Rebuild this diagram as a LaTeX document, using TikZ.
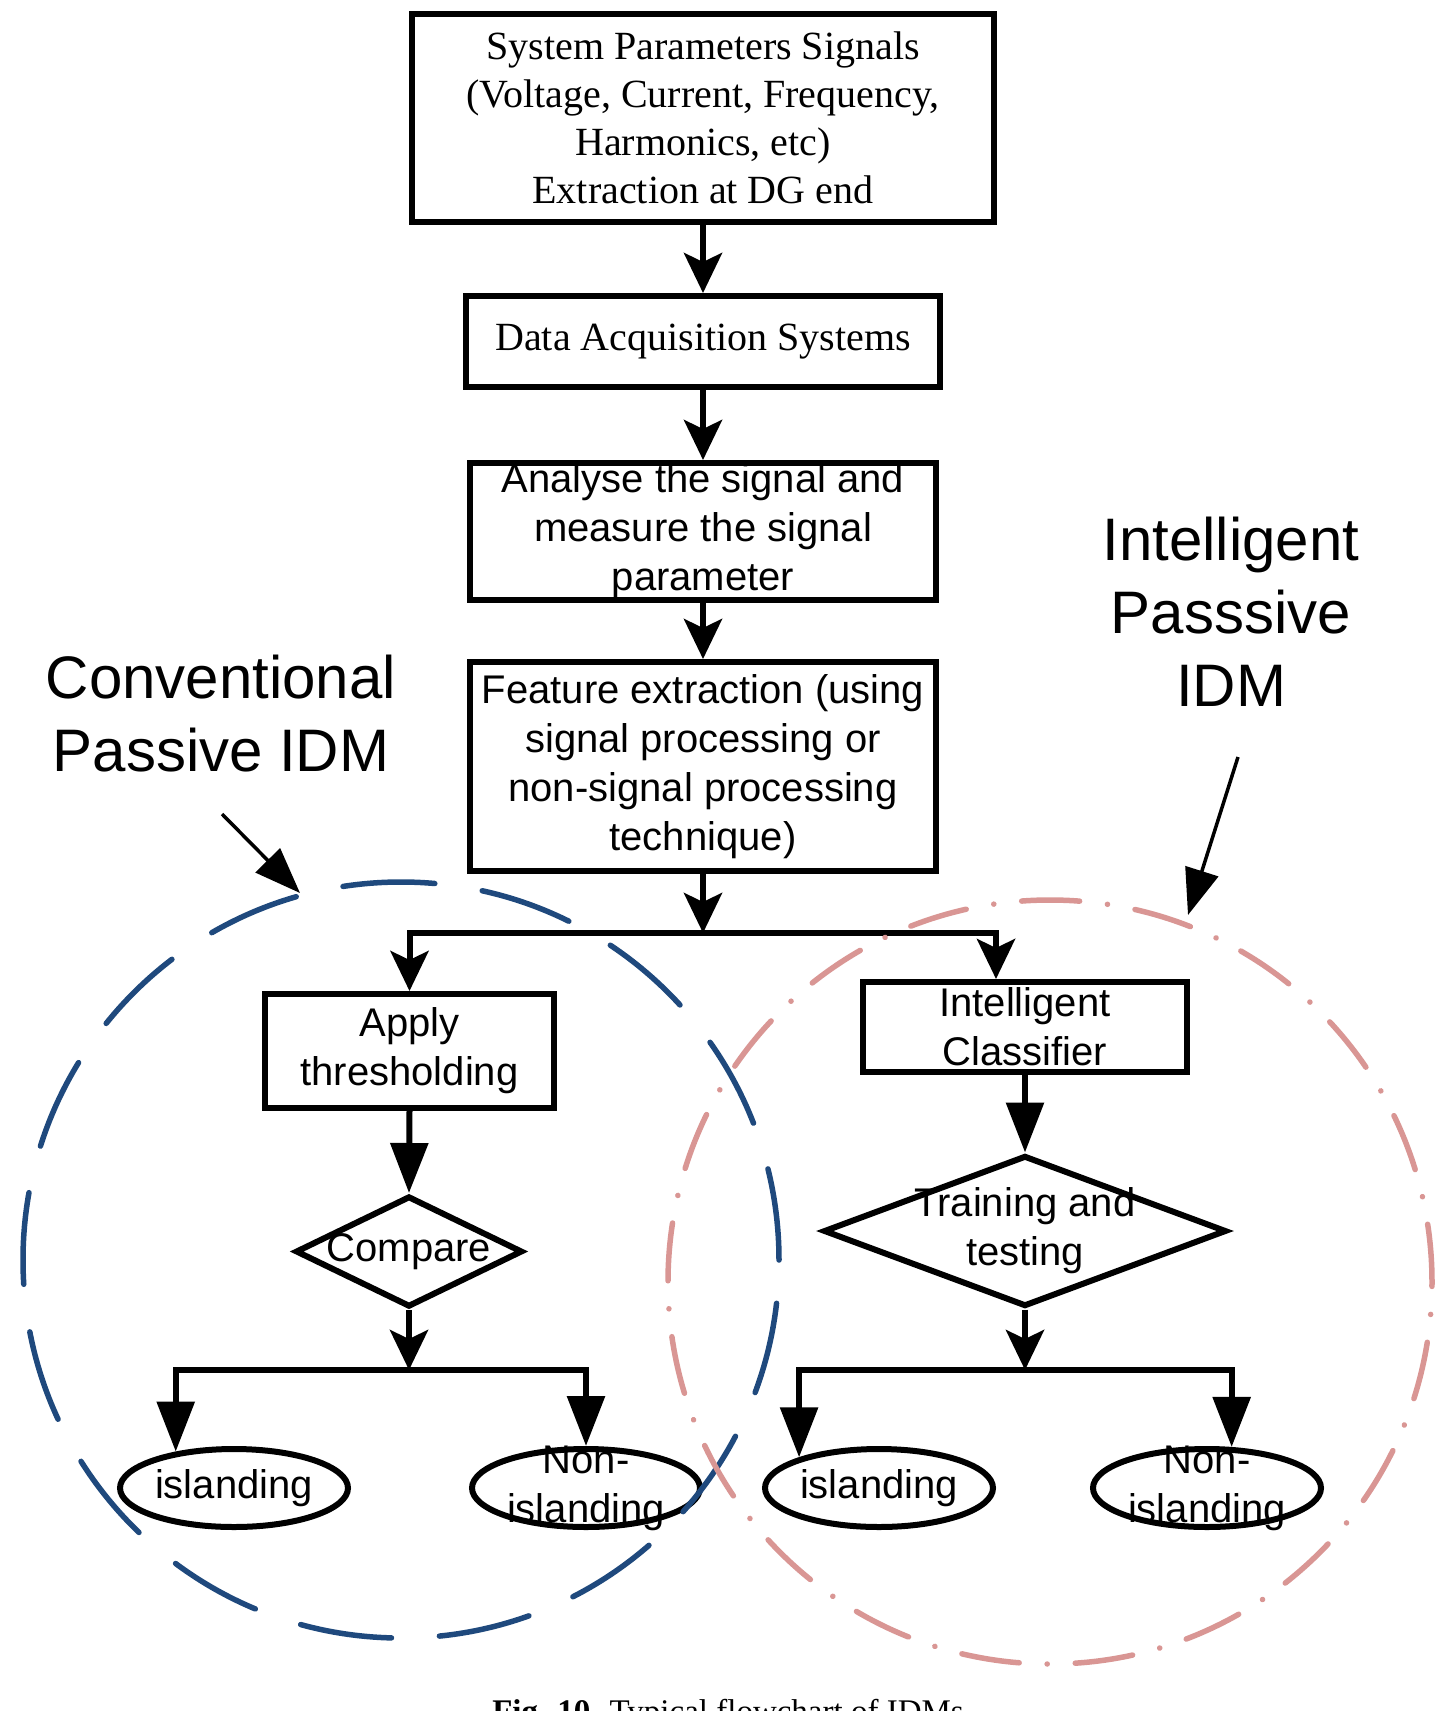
\documentclass[tikz,border=0pt]{standalone}
\usepackage{fontspec}
\setmainfont{Liberation Serif}
\setsansfont{Liberation Sans}
\usetikzlibrary{shapes.geometric,arrows.meta}
\definecolor{idmblue}{RGB}{31,73,125}
\definecolor{idmpink}{RGB}{217,150,148}
\begin{document}
\begin{tikzpicture}[x=1pt,y=-1pt,
  box/.style={draw, line width=6pt, rectangle, inner sep=0pt},
  dia/.style={draw, line width=6pt, diamond, inner sep=0pt},
  ell/.style={draw, line width=6pt, ellipse, inner sep=0pt, minimum width=228pt, minimum height=78pt},
  serift/.style={font=\fontsize{40}{48}\selectfont\rmfamily, align=center, inner sep=0pt},
  sanst/.style={font=\fontsize{40}{49}\selectfont\sffamily, align=center, inner sep=0pt},
  biglab/.style={font=\fontsize{60}{73}\selectfont\sffamily, align=center, inner sep=0pt},
  conn/.style={line width=6pt, -{Stealth[length=40pt,width=38pt,inset=9pt]}},
  connT/.style={line width=6pt, -{Triangle[length=50pt,width=37pt]}},
  pointer/.style={line width=3.5pt, -{Triangle[length=46pt,width=34pt]}},
  bluering/.style={draw=idmblue, line width=5.5pt, line cap=round, dash pattern=on 92pt off 48pt},
  pinkring/.style={draw=idmpink, line width=5.5pt, line cap=round, dash pattern=on 58pt off 28pt on 0.1pt off 28pt},
]
\useasboundingbox (0,0) rectangle (1442,1711);
\clip (0,0) rectangle (1442,1711);

% main column
\node[box, minimum width=582pt, minimum height=208pt] (top) at (703,118) {};
\node[serift] (topt) at (top) {System Parameters Signals\\(Voltage, Current, Frequency,\\Harmonics, etc)\\Extraction at DG end};

\node[box, minimum width=474pt, minimum height=91pt] (data) at (703,341.5) {};
\node[serift] (datat) at (data) {Data Acquisition Systems};

\node[box, minimum width=466pt, minimum height=137pt] (ana) at (703,531.5) {};
\node[sanst] (anat) at (ana) {Analyse the signal and\\measure the signal\\parameter};

\node[box, minimum width=466pt, minimum height=209pt] (feat) at (703,766.5) {};
\node[sanst] (featt) at (feat) {Feature extraction (using\\signal processing or\\non-signal processing\\technique)};

% left branch
\node[box, minimum width=289pt, minimum height=114pt] (apply) at (409.5,1051) {};
\node[sanst] (applyt) at (apply) {Apply\\thresholding};

\node[dia, minimum width=227pt, minimum height=111pt] (cmp) at (409,1251.5) {};
\node[sanst] (cmpt) at (cmp) {Compare};

\node[ell] (islL) at (234,1488) {};
\node[sanst] (islLt) at (islL) {islanding};
\node[ell] (nonL) at (586,1488) {};
\node[sanst] (nonLt) at (nonL) {Non-\\islanding};

% right branch
\node[box, minimum width=324pt, minimum height=90pt] (cls) at (1025,1027) {};
\node[sanst] (clst) at (cls) {Intelligent\\Classifier};

\node[dia, minimum width=403pt, minimum height=151pt] (train) at (1025,1231) {};
\node[sanst] (traint) at (train) {Training and\\testing};

\node[ell] (islR) at (879,1488) {};
\node[sanst] (islRt) at (islR) {islanding};
\node[ell] (nonR) at (1207,1488) {};
\node[sanst] (nonRt) at (nonR) {Non-\\islanding};

% junctions
\coordinate (J1) at (703,933);
\coordinate (J2) at (409,1370);
\coordinate (J3) at (1025,1370);

% connectors
\draw[conn] (top.south) -- (data.north);
\draw[conn] (data.south) -- (ana.north);
\draw[conn] (ana.south) -- (feat.north);
\draw[conn] (feat.south) -- (J1);
\draw[conn] (J1) -| (apply.north);
\draw[conn] (J1) -| ([xshift=-29pt]cls.north);
\draw[connT] (apply.south) -- (cmp.north);
\draw[conn] (cmp.south) -- (J2);
\draw[connT] (J2) -| (islL.148.6);
\draw[connT] (J2) -| (nonL.north);
\draw[connT] (cls.south) -- (train.north);
\draw[conn] (train.south) -- (J3);
\draw[connT] (J3) -| (islR.159.9);
\draw[connT] (J3) -| (nonR.59.7);

% group rings
\draw[bluering] (401,1260) circle[radius=378pt];
\draw[pinkring] (1050,1282) circle[radius=382pt];

% labels
\node[biglab] (conv) at (221,714) {Conventional\\Passive IDM};
\node[biglab] (intl) at (1231,612) {Intelligent\\Passsive\\IDM};
\coordinate (cp1) at (222,814);
\coordinate (cp2) at (300,893);
\draw[pointer] (cp1) -- (cp2);
\coordinate (ip1) at (1238,757);
\coordinate (ip2) at (1188,915);
\draw[pointer] (ip1) -- (ip2);

% caption (cut off by the lower edge, as in the reference)
\node[font=\fontsize{33}{40}\selectfont\rmfamily, anchor=base, inner sep=0pt] (cap) at (728,1722) {\textbf{Fig. 10.} Typical flowchart of IDMs};
\end{tikzpicture}
\end{document}
